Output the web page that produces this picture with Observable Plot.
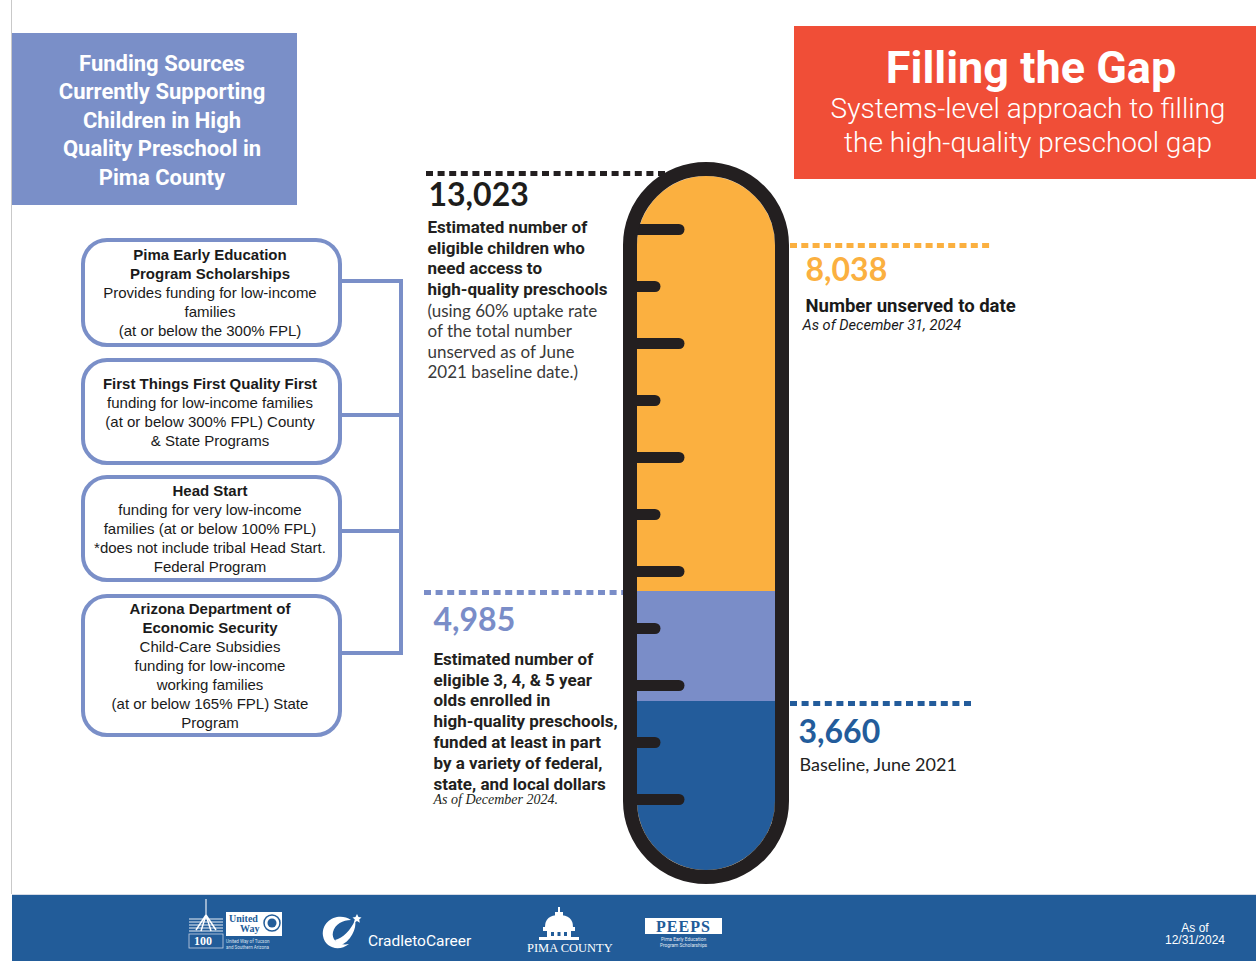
<!DOCTYPE html>
<html>
<head>
<meta charset="utf-8">
<script src="https://cdn.jsdelivr.net/npm/d3@7"></script>
<script src="https://cdn.jsdelivr.net/npm/@observablehq/plot@0.6"></script>
<style>
  html, body { margin: 0; padding: 0; background: #fff; }
  body { width: 1256px; height: 961px; position: relative; overflow: hidden; font-family: Roboto, sans-serif; }
  .abs { position: absolute; }
  #vline { left: 11px; top: 0; width: 1px; height: 894px; background: #c9c9c9; }
  #leftTitle { left: 12px; top: 33px; width: 285px; height: 172px; background: #7a8fc8; color: #fff;
    font: 700 22px/28.5px Roboto, sans-serif; display: flex; align-items: center; justify-content: center;
    text-align: center; padding-left: 15px; padding-top: 4px; box-sizing: border-box; white-space: nowrap; }
  .fbox { left: 81px; width: 261px; border: 4px solid #7a8fc8; border-radius: 26px; box-sizing: border-box;
    background: #fff; display: flex; flex-direction: column; justify-content: center; text-align: center;
    font: 15px/19px "Liberation Sans", Arial, sans-serif; color: #1a1a1a; white-space: nowrap; padding-right: 3px; }
  .fbox b { font-weight: 700; }
  .conn { background: #7a8fc8; }
  #header { left: 794px; top: 26px; width: 462px; height: 153px; background: #f04e37; color: #fff; }
  #title { left: 0; width: 100%; top: 15.5px; text-align: center; font: 700 45px/52px Roboto, sans-serif; padding-left: 12px; box-sizing: border-box; }
  #subtitle { left: 0; width: 100%; top: 66px; text-align: center; font: 300 28px/34px Roboto, sans-serif; padding-left: 6px; box-sizing: border-box; white-space: nowrap; }
  #footer { left: 12px; top: 894px; width: 1244px; height: 67px; background: #225c99; border-top: 1px solid #d5dbe6; box-sizing: border-box; }
  #asof { left: 1150px; top: 921.5px; width: 90px; text-align: center; color: #fff; font: 12px/12.5px "Liberation Sans", Arial, sans-serif; }
  #chart { left: 0; top: 0; }
</style>
</head>
<body>
<div id="vline" class="abs"></div>

<div id="leftTitle" class="abs">Funding Sources<br>Currently Supporting<br>Children in High<br>Quality Preschool in<br>Pima County</div>

<div class="abs fbox" style="top:238px;height:109px;"><div><b>Pima Early Education<br>Program Scholarships</b><br>Provides funding for low-income<br>families<br>(at or below the 300% FPL)</div></div>
<div class="abs fbox" style="top:358px;height:107px;"><div><b>First Things First Quality First</b><br>funding for low-income families<br>(at or below 300% FPL) County<br>&amp; State Programs</div></div>
<div class="abs fbox" style="top:475px;height:107px;"><div><b>Head Start</b><br>funding for very low-income<br>families (at or below 100% FPL)<br>*does not include tribal Head Start.<br>Federal Program</div></div>
<div class="abs fbox" style="top:594px;height:143px;"><div><b>Arizona Department of<br>Economic Security</b><br>Child-Care Subsidies<br>funding for low-income<br>working families<br>(at or below 165% FPL) State<br>Program</div></div>

<div class="abs conn" style="left:399px;top:279px;width:4px;height:376px;"></div>
<div class="abs conn" style="left:341px;top:279px;width:62px;height:4px;"></div>
<div class="abs conn" style="left:341px;top:413px;width:62px;height:4px;"></div>
<div class="abs conn" style="left:341px;top:529px;width:62px;height:4px;"></div>
<div class="abs conn" style="left:341px;top:651px;width:62px;height:4px;"></div>

<div id="header" class="abs">
  <div id="title" class="abs">Filling the Gap</div>
  <div id="subtitle" class="abs">Systems-level approach to filling<br>the high-quality preschool gap</div>
</div>

<div id="footer" class="abs">
  <svg width="1244" height="66" style="position:absolute;left:0;top:0" font-family="Roboto, sans-serif">
    <!-- United Way -->
    <g transform="translate(176,2)">
      <g stroke="#e8edf5" stroke-width="1.2">
        <line x1="1" y1="22" x2="35" y2="22"/><line x1="1" y1="25" x2="35" y2="25"/>
        <line x1="1" y1="28" x2="35" y2="28"/><line x1="1" y1="31" x2="35" y2="31"/>
        <line x1="1" y1="34" x2="35" y2="34"/><line x1="18" y1="2" x2="18" y2="22"/>
      </g>
      <path d="M18 18 L8 33 M18 18 L28 33 M18 18 L13 34 M18 18 L23 34" stroke="#fff" stroke-width="1.5"/>
      <rect x="1" y="37" width="34" height="14" fill="none" stroke="#c9d3e3" stroke-width="0.8"/>
      <text x="6" y="48" fill="#fff" font-family="Liberation Serif, serif" font-weight="700" font-size="12">100</text>
      <rect x="38" y="15" width="56" height="24" fill="#fff"/>
      <text x="41" y="25" fill="#225c99" font-family="Liberation Serif, serif" font-weight="700" font-size="10">United</text>
      <text x="52" y="35" fill="#225c99" font-family="Liberation Serif, serif" font-weight="700" font-size="10">Way</text>
      <circle cx="84" cy="26" r="8" fill="none" stroke="#225c99" stroke-width="1.5"/>
      <circle cx="84" cy="26" r="4.5" fill="#225c99"/>
      <text x="38" y="46" fill="#d9e1ee" font-size="4.5">United Way of Tucson</text>
      <text x="38" y="52" fill="#d9e1ee" font-size="4.5">and Southern Arizona</text>
    </g>
    <!-- CradletoCareer -->
    <g transform="translate(309,19)">
      <path d="M30 6 C18 -2 0 6 2 22 C4 34 18 38 28 30 C18 32 10 26 12 18 C14 10 22 6 30 6 Z" fill="#fff"/>
      <path d="M14 26 C22 24 30 16 34 6 C36 14 30 28 18 32 Z" fill="#fff"/>
      <path d="M36 0 l1.5 3 3 0.5 -2.3 2 0.6 3.2 -2.8 -1.6 -2.8 1.6 0.6 -3.2 -2.3 -2 3 -0.5 Z" fill="#fff"/>
      <text x="47" y="32" fill="#fff" font-size="15.5" font-weight="400">CradletoCareer</text>
    </g>
    <!-- Pima County -->
    <g transform="translate(503,8)">
      <rect x="43" y="4" width="2" height="5" fill="#fff"/>
      <rect x="40" y="9" width="8" height="5" fill="#fff"/>
      <path d="M30 24 Q30 12 44 12 Q58 12 58 24 Z" fill="#fff"/>
      <rect x="28" y="24" width="32" height="4" fill="#fff"/>
      <rect x="32" y="28" width="24" height="6" fill="#fff"/>
      <rect x="36" y="29" width="3" height="4" fill="#225c99"/><rect x="42.5" y="29" width="3" height="4" fill="#225c99"/><rect x="49" y="29" width="3" height="4" fill="#225c99"/>
      <rect x="24" y="34" width="40" height="3" fill="#fff"/>
      <text x="12" y="49" fill="#fff" font-family="Liberation Serif, serif" font-size="12.5">PIMA COUNTY</text>
    </g>
    <!-- PEEPS -->
    <g transform="translate(633,23)">
      <rect x="0" y="0" width="77" height="16" fill="#fff"/>
      <text x="38.5" y="13.5" text-anchor="middle" fill="#225c99" font-family="Liberation Serif, serif" font-weight="700" font-size="16" letter-spacing="1">PEEPS</text>
      <text x="38.5" y="23" text-anchor="middle" fill="#e3e9f2" font-size="4.8">Pima Early Education</text>
      <text x="38.5" y="28.5" text-anchor="middle" fill="#e3e9f2" font-size="4.8">Program Scholarships</text>
    </g>
  </svg>
</div>
<div id="asof" class="abs">As of<br>12/31/2024</div>

<div id="chart" class="abs"></div>

<script>
// ---- Data ----
const tubeName = ["Pima County"];
const levelNames = ["Baseline, June 2021", "Enrolled, December 2024", "Number unserved to date", "Estimated need"];
const levelValues = [3660, 4985, 8038, 13023];
const [baseline, enrolled, unserved, need] = levelValues;
const graduationCount = 11;

// ---- Styles ----
const ORANGE = "#fbb040", LIGHTBLUE = "#7a8dc8", DARKBLUE = "#235c9b", INK = "#231f20";
const fmt = d3.format(",");
const NUM = {fontSize: 32, fontFamily: "Lato", fontWeight: 700};

// Picture is not drawn to scale: piecewise scale through the labelled levels
const yOptions = {type: "linear", domain: [0, baseline, enrolled, need], range: [870, 701, 591, 176]};
const yScale = Plot.scale({y: yOptions});
// evenly spaced graduation marks along the tube
const gradPx = d3.range(graduationCount).map(i => d3.interpolateNumber(229, 799)(i / (graduationCount - 1)));
const graduations = gradPx.map((p, i) => ({value: yScale.invert(p), long: i % 2 === 0}));

const X = d => d;
const plot = Plot.plot({
  width: 1256,
  height: 961,
  marginLeft: 637,
  marginRight: 481,
  marginTop: 176,
  marginBottom: 91,
  x: {type: "band", domain: tubeName, padding: 0, axis: null},
  y: {...yOptions, axis: null},
  style: {background: "transparent", overflow: "visible"},
  marks: [
    // leader lines
    Plot.ruleY([need], {y: d => d, dy: -3, stroke: INK, strokeWidth: 5, strokeDasharray: "7,4.6", insetLeft: -211, insetRight: 105}),
    Plot.ruleY([unserved], {y: () => need, dy: 69, stroke: ORANGE, strokeWidth: 5, strokeDasharray: "7,4.3", insetLeft: 153, insetRight: -217}),
    Plot.ruleY([enrolled], {y: d => d, dy: 1, stroke: LIGHTBLUE, strokeWidth: 5, strokeDasharray: "7,4.6", insetLeft: -213, insetRight: 152}),
    Plot.ruleY([baseline], {y: d => d, dy: 2, stroke: DARKBLUE, strokeWidth: 5, strokeDasharray: "7,4.6", insetLeft: 153, insetRight: -198}),

    // fills
    Plot.barY(tubeName, {x: X, y1: () => 0, y2: () => need, fill: ORANGE, rx: 69}),
    Plot.barY(tubeName, {x: X, y1: () => 0, y2: () => baseline, fill: DARKBLUE, rx: 69}),
    Plot.barY(tubeName, {x: X, y1: () => 0, y2: () => baseline, fill: DARKBLUE, insetBottom: 69}),
    Plot.barY(tubeName, {x: X, y1: () => baseline, y2: () => enrolled, fill: LIGHTBLUE}),

    // graduation marks
    Plot.ruleY(graduations.filter(d => d.long), {y: "value", stroke: INK, strokeWidth: 11, strokeLinecap: "round", insetRight: 96}),
    Plot.ruleY(graduations.filter(d => !d.long), {y: "value", stroke: INK, strokeWidth: 11, strokeLinecap: "round", insetRight: 120}),

    // tube outline
    Plot.barY(tubeName, {x: X, y1: () => 0, y2: () => need, fill: "none", stroke: INK, strokeWidth: 14, rx: 76, inset: -7}),

    // need (top left)
    Plot.text([need], {y: d => d, text: d => fmt(d), frameAnchor: "left", textAnchor: "start", lineAnchor: "bottom",
      dx: -209, dy: 29, ...NUM, fill: "#1d1d1b"}),
    Plot.text([need], {y: d => d, text: () => "Estimated number of\neligible children who\nneed access to\nhigh-quality preschools",
      frameAnchor: "left", textAnchor: "start", lineAnchor: "top", lineHeight: 20.7 / 17,
      dx: -210, dy: 41.8, fontSize: 17, fontFamily: "Roboto", fontWeight: 700, fill: INK}),
    Plot.text([need], {y: d => d, text: () => "(using 60% uptake rate\nof the total number\nunserved as of June\n2021 baseline date.)",
      frameAnchor: "left", textAnchor: "start", lineAnchor: "top", lineHeight: 20.5 / 17,
      dx: -210, dy: 125.5, fontSize: 17, fontFamily: "Lato", fontWeight: 400, fill: "#3a3a3a"}),

    // unserved (top right)
    Plot.text([unserved], {y: () => need, text: d => fmt(d), frameAnchor: "right", textAnchor: "start", lineAnchor: "bottom",
      dx: 30, dy: 104, ...NUM, fill: ORANGE}),
    Plot.text([unserved], {y: () => need, text: () => levelNames[2],
      frameAnchor: "right", textAnchor: "start", lineAnchor: "bottom",
      dx: 30, dy: 135, fontSize: 18.5, fontFamily: "Roboto", fontWeight: 700, fill: "#1a1a1a"}),
    Plot.text([unserved], {y: () => need, text: () => "As of December 31, 2024", frameAnchor: "right", textAnchor: "start", lineAnchor: "bottom",
      dx: 27, dy: 153, fontSize: 14.6, fontFamily: "Roboto", fontStyle: "italic", fill: "#1a1a1a"}),

    // enrolled (bottom left)
    Plot.text([enrolled], {y: d => d, text: d => fmt(d), frameAnchor: "left", textAnchor: "start", lineAnchor: "bottom",
      dx: -204, dy: 39, ...NUM, fill: LIGHTBLUE}),
    Plot.text([enrolled], {y: d => d, text: () => "Estimated number of\neligible 3, 4, & 5 year\nolds enrolled in\nhigh-quality preschools,\nfunded at least in part\nby a variety of federal,\nstate, and local dollars",
      frameAnchor: "left", textAnchor: "start", lineAnchor: "top", lineHeight: 20.8 / 17,
      dx: -204, dy: 58.5, fontSize: 17, fontFamily: "Roboto", fontWeight: 700, fill: INK}),
    Plot.text([enrolled], {y: d => d, text: () => "As of December 2024.", frameAnchor: "left", textAnchor: "start", lineAnchor: "bottom",
      dx: -204, dy: 212.3, fontSize: 14, fontFamily: "Liberation Serif", fontStyle: "italic", fill: INK}),

    // baseline (bottom right)
    Plot.text([baseline], {y: d => d, text: d => fmt(d), frameAnchor: "right", textAnchor: "start", lineAnchor: "bottom",
      dx: 23, dy: 41, ...NUM, fill: DARKBLUE}),
    Plot.text([baseline], {y: d => d, text: () => levelNames[0], frameAnchor: "right", textAnchor: "start", lineAnchor: "bottom",
      dx: 24, dy: 69, fontSize: 18, fontFamily: "Lato", fontWeight: 400, fill: "#222"})
  ]
});
document.getElementById("chart").appendChild(plot);
</script>
</body>
</html>
